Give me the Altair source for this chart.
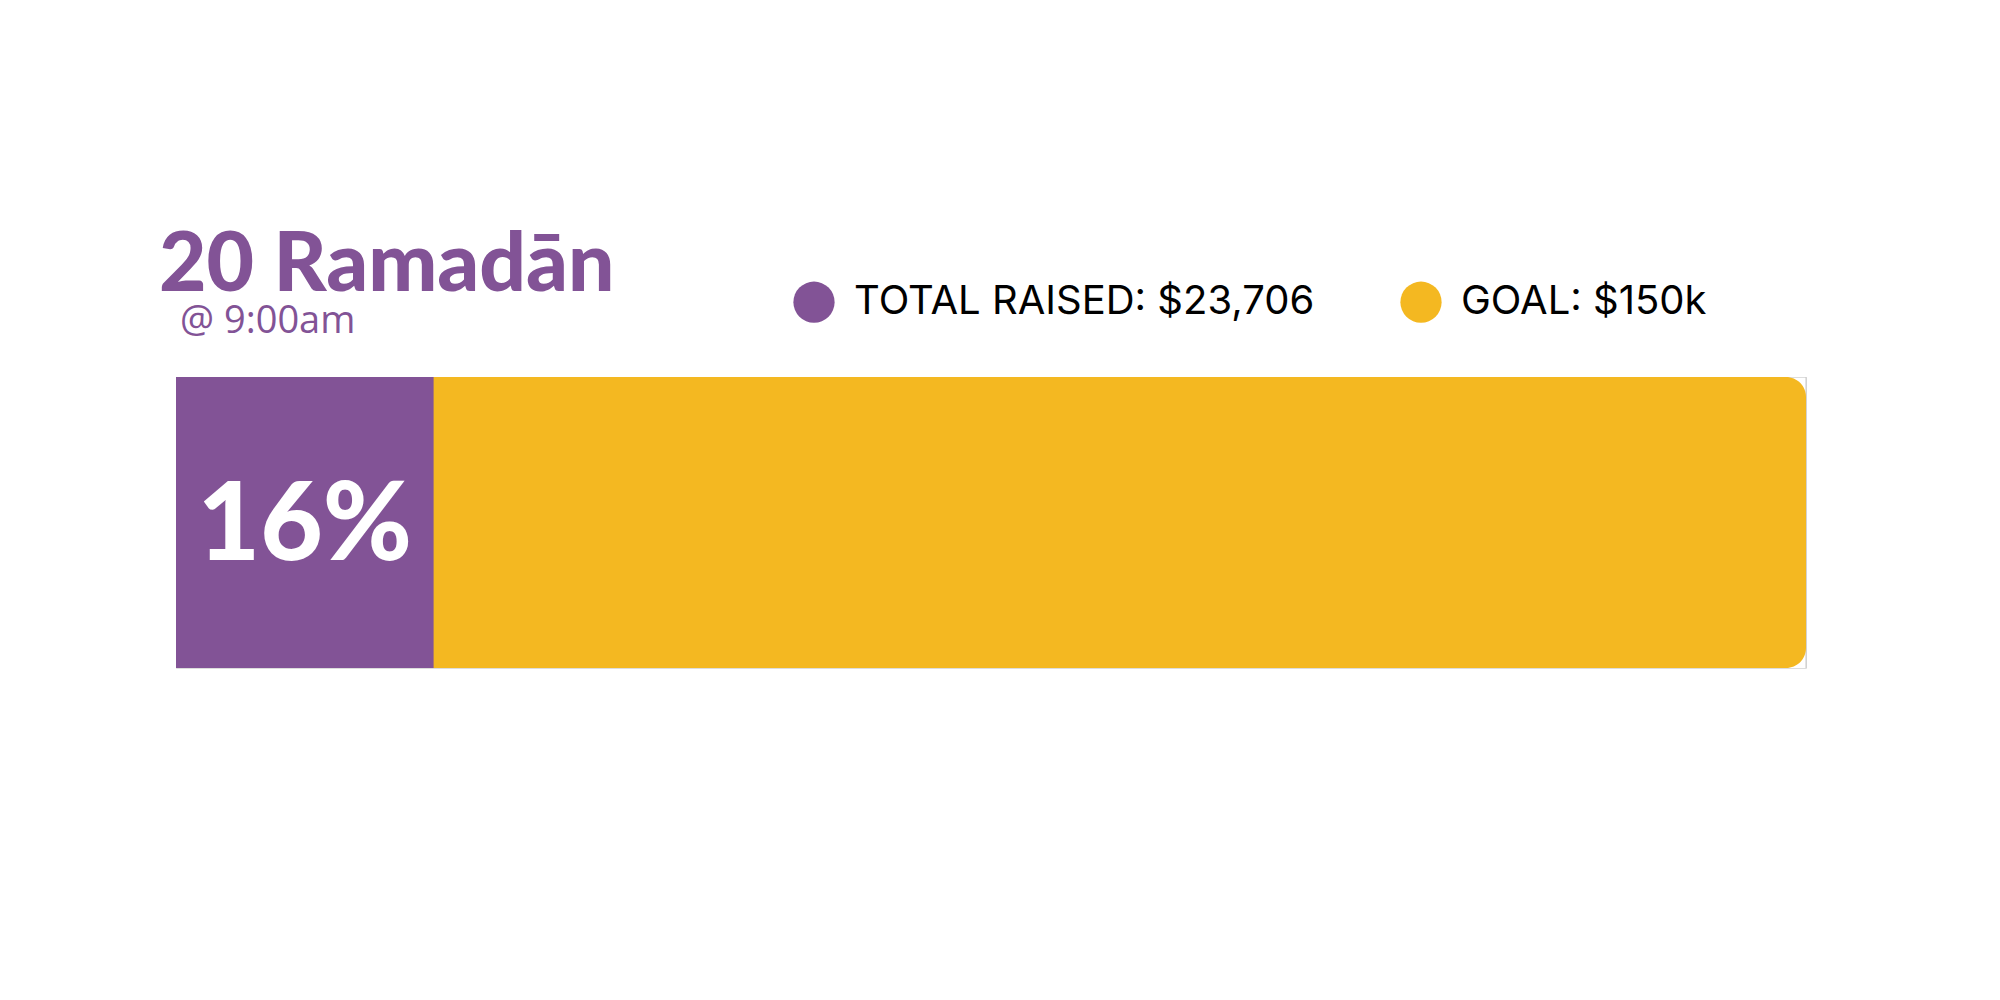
import altair as alt
import pandas as pd

# ---- data ----
categories = ["TOTAL RAISED: $23,706", "GOAL: $150k"]
amounts = [23706, 150000]
colors = ["#825396", "#F4B821"]
title_text = "20 Ramadān"
subtitle_text = "@ 9:00am"

raised, goal = amounts
pct_label = f"{round(raised / goal * 100)}%"

bars = pd.DataFrame({"label": categories, "start": [0, 0], "end": amounts})
pct_df = pd.DataFrame({"value": [raised], "pct": [pct_label]})
title_df = pd.DataFrame({"t": [title_text]})
subtitle_df = pd.DataFrame({"t": [subtitle_text]})

PURPLE, YELLOW = colors

xscale = alt.Scale(domain=[0, goal], range=[0, 1630], nice=False, zero=True)
color_enc = alt.Color(
    "label:N",
    scale=alt.Scale(domain=categories, range=colors),
    sort=categories,
    legend=alt.Legend(
        orient="none",
        legendX=617,
        legendY=-96,
        direction="horizontal",
        title=None,
        symbolType="circle",
        symbolSize=1700,
        symbolStrokeWidth=0,
        symbolOpacity=1,
        labelFont="Inter",
        labelFontSize=40,
        labelColor="#000000",
        labelOffset=19,
        columnPadding=85,
        labelLimit=1000,
        padding=0,
    ),
)

base = alt.Chart(bars)

goal_rule = base.transform_filter(alt.datum.label == categories[1]).mark_rule(
    color="#c8c8c8", strokeWidth=1
).encode(x=alt.X("end:Q", scale=xscale, axis=None))

goal_bar = base.transform_filter(alt.datum.label == categories[1]).mark_rect(
    cornerRadiusTopRight=20, cornerRadiusBottomRight=20
).encode(
    x=alt.X("start:Q", scale=xscale, axis=None),
    x2="end:Q",
    color=color_enc,
)

raised_bar = base.transform_filter(alt.datum.label == categories[0]).mark_rect().encode(
    x=alt.X("start:Q", scale=xscale, axis=None),
    x2="end:Q",
    color=color_enc,
)

pct_text = alt.Chart(pct_df).transform_calculate(mid="datum.value / 2").mark_text(
    font="Lato", fontWeight=900, fontSize=108, color="white",
    align="center", baseline="middle", dy=5,
).encode(
    x=alt.X("mid:Q", scale=xscale, axis=None),
    text="pct:N",
)

title_mark = alt.Chart(title_df).mark_text(
    font="Lato", fontWeight=900, fontSize=82, color=PURPLE,
    align="left", baseline="alphabetic",
).encode(x=alt.value(-17), y=alt.value(-86), text="t:N")

subtitle_mark = alt.Chart(subtitle_df).mark_text(
    font="Open Sans", fontWeight=400, fontSize=38, color=PURPLE,
    align="left", baseline="alphabetic",
).encode(x=alt.value(4), y=alt.value(-44), text="t:N")

chart = alt.layer(
    goal_rule, goal_bar, raised_bar, pct_text, title_mark, subtitle_mark
).properties(
    width=1630,
    height=291,
    autosize=alt.AutoSizeParams(type="none"),
    padding={"left": 168, "top": 369, "right": 186, "bottom": 324},
).configure_view(stroke=None).configure(background="white")

chart.save("out.html", embed_options={"renderer": "svg", "actions": False})
